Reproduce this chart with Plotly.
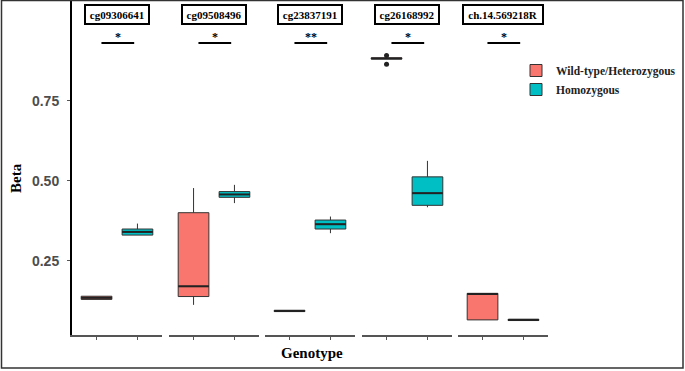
import plotly.graph_objects as go

probes = ["cg09306641", "cg09508496", "cg23837191", "cg26168992", "ch.14.569218R"]
sig_labels = ["*", "*", "**", "*", "*"]
groups = ["Wild-type/Heterozygous", "Homozygous"]
group_pos = [1, 2]

wt_lo = [0.129, 0.112, 0.091, 0.880, 0.065]
wt_q1 = [0.129, 0.138, 0.091, 0.880, 0.065]
wt_med = [0.134, 0.170, 0.093, 0.882, 0.146]
wt_q3 = [0.139, 0.400, 0.095, 0.884, 0.148]
wt_hi = [0.139, 0.477, 0.095, 0.884, 0.148]

hom_lo = [0.330, 0.430, 0.336, 0.417, 0.063]
hom_q1 = [0.330, 0.448, 0.349, 0.423, 0.063]
hom_med = [0.340, 0.457, 0.364, 0.461, 0.065]
hom_q3 = [0.349, 0.466, 0.377, 0.512, 0.067]
hom_hi = [0.366, 0.487, 0.388, 0.562, 0.067]

outlier_panel = [3, 3]
outlier_group = [0, 0]
outlier_vals = [0.891, 0.864]

sig_y = 0.93
y_ticks = [0.25, 0.50, 0.75]
colors = ["#F8766D", "#00BFC4"]

W, H = 685, 371
panel_left = [72, 169, 265, 362, 458]
panel_w = 90
y_bottom_px = 335
y_range = [0.0178, 1.0647]
box_w = 0.75

fig = go.Figure()
stats = [(wt_lo, wt_q1, wt_med, wt_q3, wt_hi), (hom_lo, hom_q1, hom_med, hom_q3, hom_hi)]

for i, probe in enumerate(probes):
    xa = "x" if i == 0 else f"x{i+1}"
    ya = "y" if i == 0 else f"y{i+1}"
    for g in range(2):
        lo, q1, med, q3, hi = (s[i] for s in stats[g])
        fig.add_trace(go.Box(
            x=[group_pos[g]], q1=[q1], median=[med], q3=[q3],
            lowerfence=[lo], upperfence=[hi],
            name=groups[g], legendgroup=groups[g], showlegend=(i == 0),
            fillcolor=colors[g], line=dict(color="#333333", width=1),
            whiskerwidth=0, width=box_w, boxpoints=False,
            xaxis=xa, yaxis=ya, hoverinfo="skip",
        ))
        fig.add_trace(go.Scatter(
            x=[group_pos[g] - box_w / 2, group_pos[g] + box_w / 2], y=[med, med],
            mode="lines", line=dict(color="#222222", width=2),
            showlegend=False, xaxis=xa, yaxis=ya, hoverinfo="skip",
        ))
    ox = [group_pos[outlier_group[k]] for k in range(len(outlier_vals)) if outlier_panel[k] == i]
    oy = [outlier_vals[k] for k in range(len(outlier_vals)) if outlier_panel[k] == i]
    if ox:
        fig.add_trace(go.Scatter(
            x=ox, y=oy, mode="markers", marker=dict(color="#222222", size=5),
            showlegend=False, xaxis=xa, yaxis=ya, hoverinfo="skip",
        ))
    fig.add_trace(go.Scatter(
        x=[group_pos[0] + 0.12, group_pos[1] - 0.08], y=[sig_y, sig_y],
        mode="lines", line=dict(color="black", width=2),
        showlegend=False, xaxis=xa, yaxis=ya, hoverinfo="skip",
    ))

layout = dict(
    width=W, height=H,
    margin=dict(l=0, r=0, t=0, b=0),
    paper_bgcolor="white", plot_bgcolor="white",
    showlegend=True,
    legend=dict(
        x=516 / W, y=1 - 56 / H, xanchor="left", yanchor="top",
        font=dict(family="Liberation Serif", size=11.5, color="#222222", weight="bold"),
        bgcolor="rgba(0,0,0,0)", tracegroupgap=0, itemwidth=30,
    ),
)

annotations = []
shapes = []
ydom = [1 - y_bottom_px / H, 1.0]
for i, probe in enumerate(probes):
    sfx = "" if i == 0 else str(i + 1)
    x0 = panel_left[i] / W
    x1 = (panel_left[i] + panel_w) / W
    layout[f"xaxis{sfx}"] = dict(
        domain=[x0, x1], anchor=f"y{sfx}", range=[0.4, 2.6],
        showline=True, linecolor="#555555", linewidth=1.5,
        ticks="outside", tickvals=group_pos, ticklen=3, tickcolor="#555555",
        showticklabels=False, showgrid=False, zeroline=False, fixedrange=True,
    )
    ydict = dict(
        domain=ydom, anchor=f"x{sfx}", range=y_range,
        showgrid=False, zeroline=False, fixedrange=True,
    )
    if i == 0:
        ydict.update(
            showline=True, linecolor="black", linewidth=2,
            ticks="outside", tickvals=y_ticks, ticktext=[f"{v:.2f}" for v in y_ticks],
            ticklen=3, tickcolor="#555555", ticklabelstandoff=5,
            tickfont=dict(family="Liberation Sans", size=14, color="#4d4d4d", weight="bold"),
        )
    else:
        ydict.update(showline=False, showticklabels=False, ticks="")
    layout[f"yaxis{sfx}"] = ydict

    xr = "x" + sfx
    yr = "y" + sfx
    annotations.append(dict(
        x=1.5, y=1.019, xref=xr, yref=yr, text=probe, showarrow=False,
        font=dict(family="Liberation Serif", size=11, color="black", weight="bold"),
        bordercolor="black", borderwidth=2, borderpad=2,
        width=len(probe) * 5.4 + 4, height=13, bgcolor="white",
        xanchor="center", yanchor="middle",
    ))
    annotations.append(dict(
        x=1.52, y=sig_y, xref=xr, yref=yr, text=sig_labels[i], showarrow=False,
        font=dict(family="Liberation Serif", size=12, color="black", weight="bold"),
        xanchor="center", yanchor="bottom", yshift=-3,
    ))

annotations.append(dict(
    x=16 / W, y=1 - 178 / H, xref="paper", yref="paper", text="Beta", textangle=-90,
    showarrow=False, font=dict(family="Liberation Serif", size=15, color="black", weight="bold"),
    xanchor="center", yanchor="middle",
))
annotations.append(dict(
    x=312 / W, y=1 - 353 / H, xref="paper", yref="paper", text="Genotype",
    showarrow=False, font=dict(family="Liberation Serif", size=15, color="black", weight="bold"),
    xanchor="center", yanchor="middle",
))

shapes.append(dict(
    type="rect", xref="paper", yref="paper", x0=1.5 / W, x1=683 / W, y0=1 - 368 / H, y1=1 - 0.5 / H,
    line=dict(color="#333333", width=1.5), fillcolor="rgba(0,0,0,0)",
))

layout["annotations"] = annotations
layout["shapes"] = shapes
fig.update_layout(**layout)

fig.write_html(
    "out.html",
    config={"displayModeBar": False},
    post_script="document.body.style.margin='0px';document.body.style.overflow='hidden';",
)
